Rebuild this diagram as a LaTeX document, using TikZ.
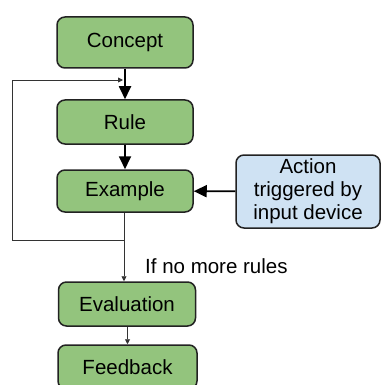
\documentclass[tikz,border=0pt]{standalone}
\usepackage{fontspec}
\setmainfont{Liberation Sans}
\usetikzlibrary{arrows.meta}
\definecolor{boxgreen}{HTML}{93C47D}
\definecolor{boxblue}{HTML}{CFE2F3}
\definecolor{edge}{HTML}{222222}
\begin{document}
\begin{tikzpicture}[x=1pt,y=-1pt,
  box/.style={draw=edge,line width=1.5pt,rounded corners=8pt,inner sep=0pt,
    font=\fontsize{20.5}{23}\selectfont,align=center},
  greenbox/.style={box,fill=boxgreen},
  bluebox/.style={box,fill=boxblue},
  bigarrow/.style={draw=black,line width=1.8pt,-{Triangle[length=13pt,width=12pt]}},
  thinarrow/.style={draw=black!80,line width=0.9pt,-{Triangle[length=5pt,width=5pt]}},
  thinline/.style={draw=black!80,line width=0.9pt}]
\useasboundingbox (0,0) rectangle (383,385);
\node[greenbox,minimum width=136pt,minimum height=51pt] (concept) at (125,42.5) {Concept};
\node[greenbox,minimum width=136pt,minimum height=44pt] (rule) at (125,122) {Rule};
\node[greenbox,minimum width=136pt,minimum height=42pt] (example) at (125,191) {Example};
\node[greenbox,minimum width=137pt,minimum height=44pt] (evaluation) at (127,304) {Evaluation};
\node[greenbox,minimum width=139pt,minimum height=44pt] (feedback) at (127.5,367) {Feedback};
\node[bluebox,minimum width=144pt,minimum height=73pt] (action) at (308,191.5) {Action\\triggered by\\input device};
% main flow
\draw[bigarrow] (concept) -- (rule);
\draw[bigarrow] (rule) -- (example);
\draw[bigarrow] (action) -- (example);
% loop back to the rule
\coordinate (split) at (124,240);
\coordinate (loopbl) at (12,240);
\coordinate (looptl) at (12,80);
\coordinate (loopend) at (123,80);
\draw[thinline] (example.south -| split) -- (split);
\draw[thinarrow] (split) -- (loopbl) -- (looptl) -- (loopend);
% exit when the rules run out
\draw[thinarrow] (split) -- (split |- evaluation.north);
\node[anchor=base west,inner sep=0pt,font=\fontsize{20.5}{23}\selectfont] (norules) at (145,273) {If no more rules};
\draw[thinarrow] (evaluation.south -| feedback) -- (feedback.north);
\end{tikzpicture}
\end{document}
